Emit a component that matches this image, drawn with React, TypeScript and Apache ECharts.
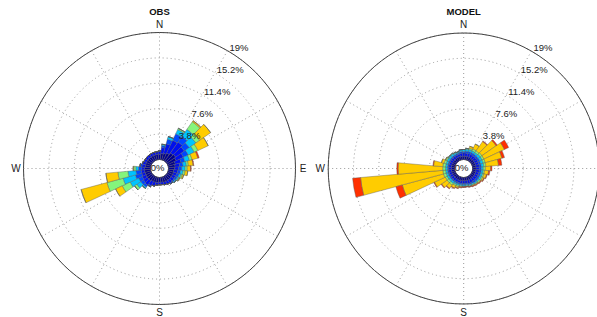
import React, { useEffect, useRef } from "react";
import * as echarts from "echarts";

const directions = ["0","10","20","30","40","50","60","70","80","90","100","110","120","130","140","150","160","170","180","190","200","210","220","230","240","250","260","270","280","290","300","310","320","330","340","350"];
const speedClasses = ["c1", "c2", "c3", "c4", "c5", "c6", "c7"];
const classColors = ["#00008f", "#0010ee", "#0046ff", "#00c4ff", "#84f57c", "#ffcc00", "#ff3000"];
const ringTicks = [3.8, 7.6, 11.4, 15.2, 19];
const ringLabels = ["3.8%", "7.6%", "11.4%", "15.2%", "19%"];
const titles = ["OBS", "MODEL"];
const compass = ["N", "E", "S", "W"];

const obsNavy = [0.8,0.9,1.0,1.2,1.5,1.6,1.4,1.1,1.0,0.9,0.8,0.8,0.8,0.8,0.8,0.8,0.8,0.7,0.7,0.8,0.8,0.8,0.9,0.9,0.9,0.9,0.9,0.9,0.8,0.8,0.8,0.8,0.8,0.8,0.8,0.8];
const obsBlue = [0.4,0.9,1.5,2.1,2.0,1.6,1.2,0.9,0.7,0.6,0.6,0.5,0.5,0.5,0.5,0.5,0.4,0.4,0.4,0.4,0.6,0.7,0.8,0.7,0.6,0.5,0.5,0.4,0.5,0.5,0.4,0.4,0.4,0.4,0.4,0.4];
const obsMid = [0.1,0.3,0.7,1.1,1.0,0.9,0.8,0.6,0.5,0.5,0.4,0.4,0.3,0.2,0.2,0,0,0,0,0,0,0.2,0.4,0.5,0.6,1.0,0.8,0.5,0.3,0,0,0,0,0,0,0];
const obsCyan = [0,0.2,0.4,0.7,1.3,1.2,1.0,0.7,0.5,0.5,0.4,0.3,0.2,0.2,0,0,0,0,0,0,0,0,0.2,0.7,1.4,1.9,1.2,0.4,0,0,0,0,0,0,0,0];
const obsGreen = [0,0,0,0.2,1.4,0.7,0.6,0.4,0.3,0.3,0.3,0.2,0.1,0,0,0,0,0,0,0,0,0,0,0.4,1.3,2.5,1.5,0.3,0,0,0,0,0,0,0,0];
const obsGold = [0,0,0,0,0.2,2.0,1.7,0.9,0.7,0.5,0.4,0.2,0.1,0,0,0,0,0,0,0,0,0,0,0,1.1,4.0,1.8,0.1,0,0,0,0,0,0,0,0];
const obsRed = [0,0,0,0,0,0,0,0.2,0.1,0.1,0,0,0,0,0,0,0,0,0,0,0,0,0,0,0,0,0,0,0,0,0,0,0,0,0,0];

const modelNavy = [0.5,0.5,0.5,0.5,0.5,0.5,0.5,0.5,0.5,0.5,0.5,0.5,0.5,0.5,0.5,0.5,0.5,0.5,0.5,0.5,0.5,0.5,0.5,0.5,0.5,0.5,0.5,0.5,0.5,0.5,0.5,0.5,0.5,0.5,0.5,0.5];
const modelBlue = [0.5,0.5,0.5,0.5,0.5,0.5,0.5,0.5,0.5,0.5,0.5,0.5,0.5,0.5,0.5,0.5,0.5,0.4,0.4,0.4,0.4,0.4,0.4,0.4,0.4,0.4,0.4,0.4,0.4,0.4,0.4,0.4,0.4,0.4,0.4,0.5];
const modelMid = [0.2,0.3,0.3,0.3,0.3,0.3,0.3,0.3,0.3,0.3,0.3,0.3,0.3,0.3,0.3,0.2,0.2,0.2,0.2,0.2,0.2,0.2,0.2,0.2,0.2,0.2,0.2,0.2,0.2,0.2,0.2,0.2,0.2,0.2,0.2,0.2];
const modelCyan = [0.3,0.3,0.3,0.3,0.3,0.4,0.4,0.4,0.4,0.3,0.3,0.3,0.3,0.2,0.2,0.2,0.2,0.2,0.2,0.2,0.2,0.2,0.3,0.3,0.3,0.3,0.3,0.3,0.3,0.3,0.3,0.3,0.3,0.2,0.2,0.3];
const modelGreen = [0,0.1,0.2,0.3,0.3,0.3,0.3,0.3,0.3,0.3,0.2,0.2,0.2,0.2,0.1,0.1,0.1,0.1,0.1,0.1,0.2,0.2,0.3,0.3,0.3,0.4,0.4,0.4,0.4,0.3,0.2,0.1,0.1,0.1,0,0];
const modelGold = [0,0,0.3,0.8,1.7,2.6,3.4,2.6,1.9,0.8,0.6,0.4,0.2,0.1,0.1,0.1,0,0,0,0.1,0.2,0.4,0.6,1.0,1.8,6.4,12.4,6.7,1.4,0.4,0.1,0,0,0,0,0];
const modelRed = [0,0,0,0,0.1,0.2,0.7,0.4,0.5,0.2,0.2,0.1,0.1,0.1,0.1,0.1,0.1,0.1,0.1,0.1,0.1,0.1,0.1,0.1,0.1,1.0,1.2,0.2,0.1,0,0,0,0,0,0,0];

const obsSeries = [obsNavy, obsBlue, obsMid, obsCyan, obsGreen, obsGold, obsRed];
const modelSeries = [modelNavy, modelBlue, modelMid, modelCyan, modelGreen, modelGold, modelRed];

export default function App() {
  const ref = useRef<HTMLDivElement>(null);
  useEffect(() => {
    document.body.style.margin = "0";
    if (!ref.current) return;
    const chart = echarts.init(ref.current, null, { renderer: "svg" });
    const font = "'Liberation Sans', Arial, Helvetica, sans-serif";
    const plots = [
      { cx: 159.5, cy: 168.5, R: 136, inner: 9, data: obsSeries, stack: "obs", showE: true },
      { cx: 463.7, cy: 168.5, R: 135.5, inner: 9, data: modelSeries, stack: "model", showE: false },
    ];
    const polar: any[] = [];
    const angleAxis: any[] = [];
    const radiusAxis: any[] = [];
    const series: any[] = [];
    const graphic: any[] = [];
    plots.forEach((p, pi) => {
      const gi = pi * 2;
      const bi = pi * 2 + 1;
      polar.push({ center: [p.cx, p.cy], radius: [p.inner, p.R] });
      polar.push({ center: [p.cx, p.cy], radius: [p.inner, p.R] });
      angleAxis.push({
        polarIndex: gi, type: "value", min: 0, max: 360, interval: 30, startAngle: 90, clockwise: true,
        axisLine: { show: true, lineStyle: { color: "#444", width: 1 } },
        axisTick: { show: false }, axisLabel: { show: false },
        splitLine: { show: true, lineStyle: { color: "#999", type: [1, 3], width: 1 } },
      });
      radiusAxis.push({
        polarIndex: gi, type: "value", min: 0, max: 19, interval: 3.8,
        axisLine: { show: false }, axisTick: { show: false }, axisLabel: { show: false },
        splitLine: { show: true, lineStyle: { color: "#999", type: [1, 3], width: 1 } },
      });
      angleAxis.push({
        polarIndex: bi, type: "category", data: directions, startAngle: 95, clockwise: true,
        axisLine: { show: false }, axisTick: { show: false }, axisLabel: { show: false }, splitLine: { show: false },
      });
      radiusAxis.push({
        polarIndex: bi, type: "value", min: 0, max: 19,
        axisLine: { show: false }, axisTick: { show: false }, axisLabel: { show: false }, splitLine: { show: false },
      });
      p.data.forEach((vals, ci) => {
        series.push({
          type: "bar", coordinateSystem: "polar", polarIndex: bi, stack: p.stack,
          name: speedClasses[ci], data: vals, barCategoryGap: "0%",
          itemStyle: { color: classColors[ci], borderColor: "#555", borderWidth: 0.4 },
          silent: true,
        });
      });
      graphic.push({
        type: "text", x: p.cx, y: 11, z: 100,
        style: { text: titles[pi], font: `bold 9.5px ${font}`, fill: "#111", align: "center", verticalAlign: "middle" },
      });
      const off = 143.5;
      const cpos = [[p.cx, p.cy - off - 0.5], [p.cx + off, p.cy], [p.cx, p.cy + off], [p.cx - off, p.cy]];
      compass.forEach((c, k) => {
        if (k === 1 && !p.showE) return;
        graphic.push({
          type: "text", x: cpos[k][0], y: cpos[k][1], z: 100,
          style: { text: c, font: `10px ${font}`, fill: "#222", align: "center", verticalAlign: "middle" },
        });
      });
      ringTicks.forEach((v, k) => {
        const rr = p.inner + (v / 19) * (p.R - p.inner) + 4;
        graphic.push({
          type: "text", x: p.cx + rr * 0.5, y: p.cy - rr * 0.866, z: 100,
          style: { text: ringLabels[k], font: `9.5px ${font}`, fill: "#222", align: "left", verticalAlign: "middle" },
        });
      });
      graphic.push({
        type: "text", x: p.cx - 2, y: p.cy - 1.5, z: 100,
        style: { text: "0%", font: `9.5px ${font}`, fill: "#222", align: "center", verticalAlign: "middle" },
      });
    });
    chart.setOption({
      animation: false,
      backgroundColor: "#ffffff",
      polar, angleAxis, radiusAxis, series, graphic,
    });
    return () => chart.dispose();
  }, []);
  return <div ref={ref} style={{ position: "fixed", left: 0, top: 0, width: 597, height: 317 }} />;
}
